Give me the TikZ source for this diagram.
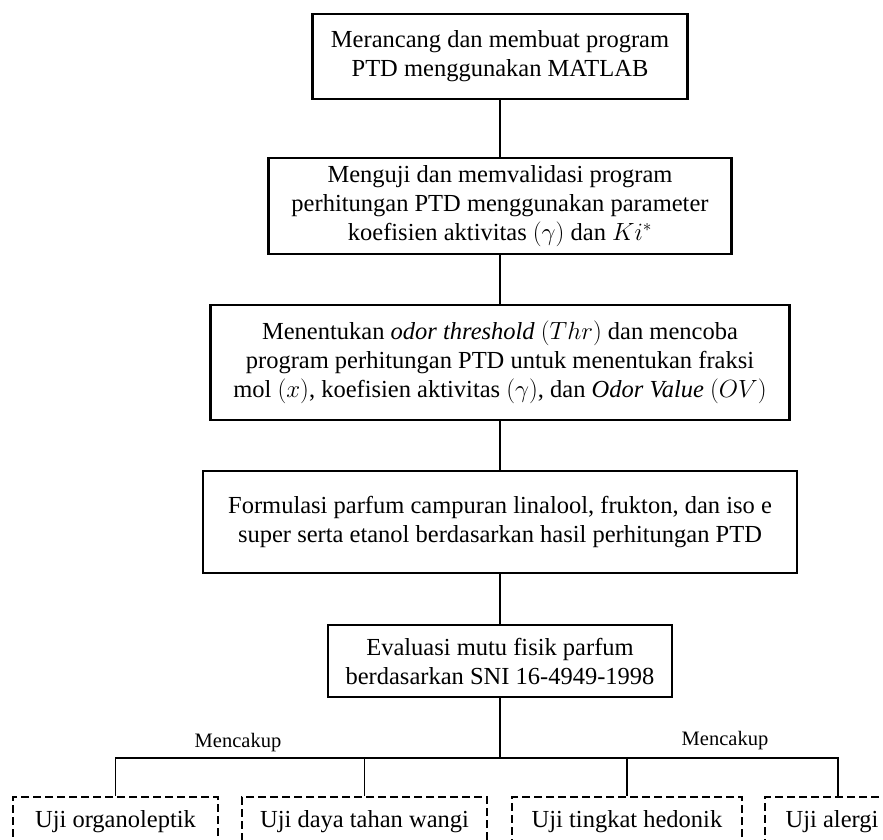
\documentclass[tikz,border=0pt]{standalone}
\usepackage{fontspec}
\setmainfont{Liberation Serif}
\begin{document}
\begin{tikzpicture}[x=1pt,y=-1pt,
  stepbox/.style={draw, line width=2.5pt, align=center, inner sep=0pt,
    font=\fontsize{24.5}{29}\selectfont},
  testbox/.style={draw, line width=2.5pt, dash pattern=on 8pt off 4pt,
    align=center, inner sep=0pt, minimum height=50pt,
    font=\fontsize{24.5}{29}\selectfont},
  link/.style={line width=1.3pt},
  lbl/.style={inner sep=0pt, font=\fontsize{20.5}{24}\selectfont}]
\useasboundingbox (0,0) rectangle (883,839);

% main sequence of steps
\node[stepbox, minimum width=375pt, minimum height=85pt] (b1) at (500,56.5)
  {Merancang dan membuat program\\PTD menggunakan MATLAB};
\node[stepbox, minimum width=463pt, minimum height=96pt] (b2) at (500,206)
  {Menguji dan memvalidasi program\\perhitungan PTD menggunakan parameter\\koefisien aktivitas $(\gamma)$ dan $Ki^{*}$};
\node[stepbox, minimum width=579pt, minimum height=115pt] (b3) at (500,362.5)
  {Menentukan \textit{odor threshold} $(Thr)$ dan mencoba\\program perhitungan PTD untuk menentukan fraksi\\mol $(x)$, koefisien aktivitas $(\gamma)$, dan \textit{Odor Value} $(OV)$};
\node[stepbox, minimum width=594pt, minimum height=102pt] (b4) at (500,522)
  {Formulasi parfum campuran linalool, frukton, dan iso e\\super serta etanol berdasarkan hasil perhitungan PTD};
\node[stepbox, minimum width=344pt, minimum height=72pt] (b5) at (500,661)
  {Evaluasi mutu fisik parfum\\berdasarkan SNI 16-4949-1998};

\draw[link] (b1.south) -- (b2.north);
\draw[link] (b2.south) -- (b3.north);
\draw[link] (b3.south) -- (b4.north);
\draw[link] (b4.south) -- (b5.north);

% physical quality tests
\node[testbox, minimum width=205pt] (d1) at (115.5,822) {Uji organoleptik};
\node[testbox, minimum width=245pt] (d2) at (364.5,822) {Uji daya tahan wangi};
\node[testbox, minimum width=230pt] (d3) at (627,822) {Uji tingkat hedonik};
\node[testbox, minimum width=134pt] (d4) at (832,822) {Uji alergi};

\coordinate (bus) at (500,758);
\coordinate (d4top) at ([xshift=6pt]d4.north);
\draw[link] (b5.south) -- (bus);
\draw[link] (d1.north) -- (d1.north |- bus) -- (d4top |- bus) -- (d4top);
\draw[link] (d2.north) -- (d2.north |- bus);
\draw[link] (d3.north) -- (d3.north |- bus);

\node[lbl] (m1) at (238,743) {Mencakup};
\node[lbl] (m2) at (725,741) {Mencakup};
\end{tikzpicture}
\end{document}
